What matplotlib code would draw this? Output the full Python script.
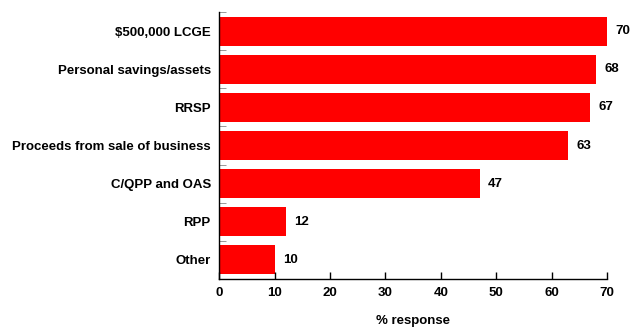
import matplotlib.pyplot as plt
import numpy as np

plt.rcParams['font.family'] = ['Liberation Sans', 'DejaVu Sans']
plt.rcParams['font.weight'] = 'bold'

sources = ["$500,000 LCGE", "Personal savings/assets", "RRSP",
           "Proceeds from sale of business", "C/QPP and OAS", "RPP", "Other"]
pct = [70, 68, 67, 63, 47, 12, 10]

fig = plt.figure(figsize=(6.39, 3.27), dpi=100)
ax = fig.add_axes([0.343, 0.147, 0.607, 0.816])

y = np.arange(len(sources))[::-1]
ax.barh(y, pct, height=0.76, color='#ff0000')
for yi, v in zip(y, pct):
    ax.text(v + 1.5, yi, str(v), va='center', ha='left', fontsize=9.5, fontweight='bold')

ax.set_xlim(0, 70)
ax.set_ylim(-0.5, len(sources) - 0.5)
ax.set_xticks(range(0, 71, 10))
ax.set_yticks(y)
ax.set_yticklabels([s.replace('$', r'\$') for s in sources], fontsize=9.5, fontweight='bold')
ax.set_yticks(np.arange(0.5, len(sources), 1), minor=True)

ax.tick_params(axis='x', direction='in', length=5, width=1, labelsize=9.5, pad=6)
ax.tick_params(axis='y', which='major', length=0, pad=6)
ax.tick_params(axis='y', which='minor', direction='in', length=5, color='#888888')
ax.set_xlabel("% response", fontsize=9.5, fontweight='bold', labelpad=11)

for s in ['top', 'right']:
    ax.spines[s].set_visible(False)
ax.spines['left'].set_linewidth(1)
ax.spines['bottom'].set_linewidth(1)

plt.savefig('out.png', dpi=100)
